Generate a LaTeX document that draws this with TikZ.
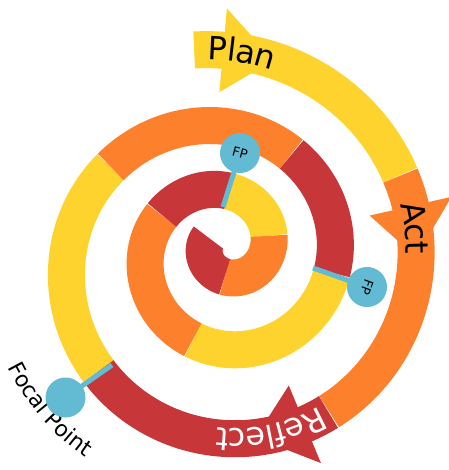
\documentclass[tikz,border=0pt]{standalone}
\usepackage{fontspec}
\newfontfamily\dvs{DejaVu Sans}
\usetikzlibrary{calc,decorations.text}
\definecolor{cyel}{RGB}{254,211,45}
\definecolor{corg}{RGB}{253,128,44}
\definecolor{cred}{RGB}{199,54,57}
\definecolor{cblu}{RGB}{98,187,210}
\newcommand\bigfont{\dvs\fontsize{32}{38}\selectfont}
\newcommand\focfont{\dvs\fontsize{22}{27}\selectfont}
\begin{document}
\begin{tikzpicture}[x=1pt,y=-1pt,
  declare function={
    srf(\u)=218-87.744*\u+1.116*\u*\u+1.628*\u*\u*\u;
    scx(\u)=219+2*\u;
    scy(\u)=268-9*\u;
    sxf(\u)=scx(\u)+srf(\u)*sin(360*\u);
    syf(\u)=scy(\u)-srf(\u)*cos(360*\u);
  },
  band/.style={line width=37pt,line cap=butt,line join=round},
  stem/.style={cblu,line width=5pt},
  fpc/.style={circle,fill=cblu,minimum size=40pt,inner sep=0pt,font=\dvs\fontsize{13}{15}\selectfont}]
\useasboundingbox (0,0) rectangle (448,470);
% spiral band segments
\foreach \a/\b/\c in {-0.018/0.176/cyel, 0.176/0.399/corg, 0.399/0.634/cred,
  0.634/0.862/cyel, 0.862/1.095/corg, 1.095/1.274/cred, 1.274/1.5525/cyel,
  1.5525/1.836/corg, 1.836/2.016/cred, 2.016/2.208/cyel, 2.208/2.497/corg,
  2.497/2.80/cred}
  \draw[band,\c] plot[domain=\a:\b,samples=60,variable=\t] ({sxf(\t)},{syf(\t)});
% arrowheads
\foreach \tb/\tt/\c in {0.003/0.041/cyel, 0.2016/0.2429/corg, 0.4223/0.4679/cred}{
  \path ({sxf(\tb)},{syf(\tb)}) coordinate (hb)
        ({sxf(\tb+0.004)},{syf(\tb+0.004)}) coordinate (hf)
        ({sxf(\tt)},{syf(\tt)}) coordinate (htip);
  \fill[\c] ($(hb)!42pt!90:(hf)$) -- (htip) -- ($(hb)!42pt!-90:(hf)$) -- cycle;
}
% labels along the spiral
\path[decorate,decoration={text along path,text={|\bigfont|Plan},text align=left,raise=-10pt}]
  plot[domain=-0.008:0.07,samples=40,variable=\t] ({sxf(\t)},{syf(\t)});
\path[decorate,decoration={text along path,text={|\bigfont|Act},text align=left,raise=-10pt}]
  plot[domain=0.1986:0.27,samples=40,variable=\t] ({sxf(\t)},{syf(\t)});
\path[decorate,decoration={text along path,text={|\bigfont|Reflect},text color=white,text align=left,raise=-10pt}]
  plot[domain=0.404:0.56,samples=60,variable=\t] ({sxf(\t)},{syf(\t)});
\path[decorate,decoration={text along path,text={|\focfont|Focal Point},text align=left}]
  plot[domain=206.3:250,samples=40,variable=\a] ({220+237*cos(\a)},{262-237*sin(\a)});
% focal points
\coordinate (s1) at (223,207); \coordinate (c1) at (240,153);
\draw[stem] (s1) -- (c1);
\node[fpc,rotate=-15] (fp1) at (c1) {FP};
\coordinate (s2) at (313,268); \coordinate (c2) at (367,287);
\draw[stem] (s2) -- (c2);
\node[fpc,rotate=-110] (fp2) at (c2) {FP};
\coordinate (s3) at (112,365); \coordinate (c3) at (65.5,397.5);
\draw[stem] (s3) -- (c3);
\node[fpc] (fp3) at (c3) {};
\end{tikzpicture}
\end{document}
